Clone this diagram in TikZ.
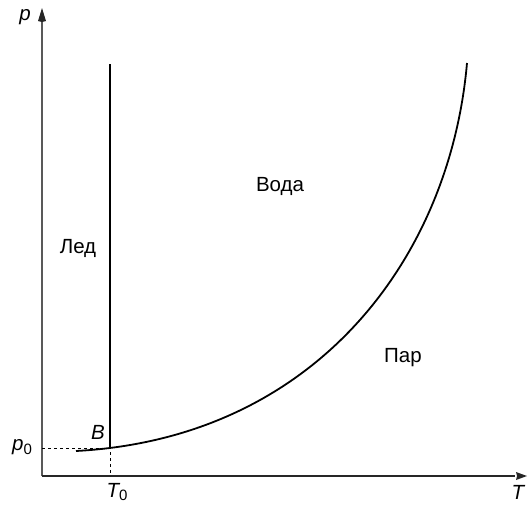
\documentclass[tikz,border=0pt]{standalone}
\usepackage{fontspec}
\setmainfont{Liberation Sans}
\newcommand{\subz}{\raisebox{-0.35ex}{\fontsize{15}{15}\selectfont\upshape 0}}
\begin{document}
\begin{tikzpicture}[x=1pt,y=-1pt,
  axisline/.style={line width=1.3pt,draw=black!65},
  tipfill/.style={fill=black!85},
  lbl/.style={font=\fontsize{20.5}{22}\selectfont,inner sep=0pt},
  ilbl/.style={font=\fontsize{20.5}{22}\selectfont\itshape,inner sep=0pt},
  dots/.style={line width=1pt,dash pattern=on 3pt off 3pt},
  curve/.style={line width=1.8pt,black,line join=round}]
\useasboundingbox (0,0) rectangle (528,504);
\coordinate (O) at (42,476);
\coordinate (ytop) at (42,8);
\coordinate (ybase) at (42,20);
\coordinate (xend) at (527,476);
\coordinate (xbase) at (515,476);
\coordinate (B) at (110,448);
\coordinate (Vtop) at (110,64);
\coordinate (T0) at (110,476);
\coordinate (P0) at (42,448);
\coordinate (cstart) at (76,451);
\coordinate (c1) at (316,438);
\coordinate (c2) at (450,258);
\coordinate (cend) at (467,63);
\draw[axisline] (O) -- (ybase);
\draw[axisline,draw=black!85] (O) -- (xbase);
\fill[tipfill] (ytop) -- ([xshift=-4pt,yshift=-1pt]ybase) -- ([yshift=-2pt]ybase) -- ([xshift=4pt,yshift=-1pt]ybase) -- cycle;
\fill[tipfill] (xend) -- ([xshift=1pt,yshift=-4pt]xbase) -- ([xshift=2pt]xbase) -- ([xshift=1pt,yshift=4pt]xbase) -- cycle;
\draw[line width=1.2pt] (B) -- (Vtop);
\draw[dots] (P0) -- (B) -- (T0);
\draw[curve] (cstart) .. controls (c1) and (c2) .. (cend);
\node[ilbl] (p) at (25,17) {p};
\node[ilbl] (T) at (518,492) {T};
\node[ilbl] (p0) at (22,447) {p\subz};
\node[ilbl] (t0) at (117,492) {T\subz};
\node[ilbl] (b) at (98,432) {B};
\node[lbl] (led) at (78,248) {Лед};
\node[lbl] (voda) at (280,186) {Вода};
\node[lbl] (par) at (403,358) {Пар};
\end{tikzpicture}
\end{document}
